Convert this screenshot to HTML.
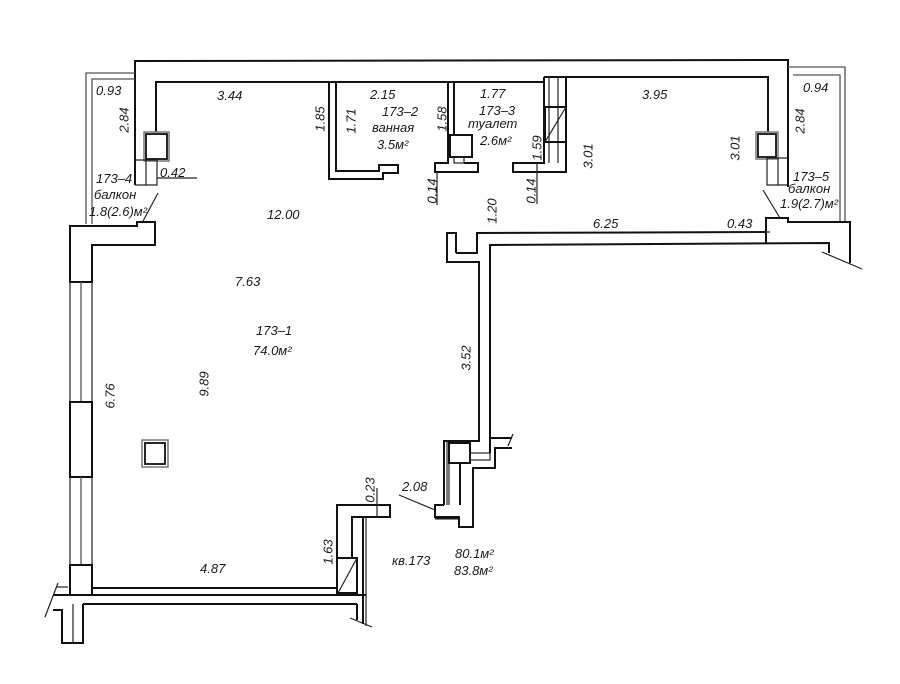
<!DOCTYPE html>
<html><head><meta charset="utf-8">
<style>
html,body{margin:0;padding:0;background:#fff;}
svg{display:block;}
text{font-family:"Liberation Sans","DejaVu Sans",sans-serif;font-style:italic;font-size:13px;fill:#1a1a1a;}
.w{fill:none;stroke:#111;stroke-width:2;stroke-linejoin:miter;}
.t{fill:none;stroke:#222;stroke-width:1.2;}
.g{fill:none;stroke:#555;stroke-width:1.3;}
</style></head>
<body>
<svg width="900" height="684" viewBox="0 0 900 684" xmlns="http://www.w3.org/2000/svg">
<rect width="900" height="684" fill="#fff"/>

<!-- top outer wall -->
<polyline class="w" points="135,185 135,61 788,60 788,187"/>
<!-- top inner wall -->
<polyline class="w" points="156,133 156,82 545,82"/>
<polyline class="w" points="566,77 768,77 768,133"/>

<!-- left chimney -->
<rect x="144" y="132" width="25" height="29" fill="#fff" stroke="#777" stroke-width="1.5"/>
<rect x="146" y="134" width="21" height="25" fill="#fff" stroke="#111" stroke-width="1.8"/>
<polyline class="t" points="135,160 157,160 157,185 135,185"/>
<line class="t" x1="146" y1="160" x2="146" y2="185"/>
<line class="t" x1="157" y1="178" x2="197" y2="178"/>

<!-- right chimney -->
<rect x="756" y="132" width="22" height="27" fill="#fff" stroke="#777" stroke-width="1.5"/>
<rect x="758" y="134" width="18" height="23" fill="#fff" stroke="#111" stroke-width="1.8"/>
<polyline class="t" points="788,158 767,158 767,185 788,185"/>
<line class="t" x1="778" y1="158" x2="778" y2="185"/>

<!-- left balcony -->
<polyline class="g" points="86,224 86,73 135,73"/>
<polyline class="g" points="92,224 92,79 135,79"/>
<line class="t" x1="158" y1="193" x2="142" y2="223"/>

<!-- right balcony -->
<polyline class="g" points="788,67 845,67 845,222"/>
<polyline class="g" points="793,75 840,75 840,222"/>
<line class="t" x1="763" y1="190" x2="780" y2="218"/>

<!-- left top block -->
<polygon class="w" fill="#fff" points="70,226 137,226 137,222 155,222 155,245 92,245 92,282 70,282"/>
<!-- windows -->
<line class="t" x1="70" y1="282" x2="70" y2="402"/>
<line class="g" x1="81" y1="282" x2="81" y2="402"/>
<line class="t" x1="92" y1="282" x2="92" y2="402"/>
<rect class="w" x="70" y="402" width="22" height="75"/>
<line class="t" x1="70" y1="477" x2="70" y2="565"/>
<line class="g" x1="81" y1="477" x2="81" y2="565"/>
<line class="t" x1="92" y1="477" x2="92" y2="565"/>
<rect class="w" x="70" y="565" width="22" height="30"/>

<!-- bottom wall -->
<line class="w" x1="92" y1="588" x2="338" y2="588"/>
<line class="w" x1="53" y1="595" x2="366" y2="595"/>
<line class="w" x1="83" y1="604" x2="357" y2="604"/>
<polyline class="w" points="53,610 62,610 62,643 83,643 83,604"/>
<line class="t" x1="73" y1="604" x2="73" y2="643"/>
<line class="t" x1="45" y1="617" x2="58" y2="583"/>
<line class="t" x1="57" y1="587" x2="68" y2="587"/>
<line class="w" x1="357" y1="604" x2="357" y2="620"/>
<line class="t" x1="350" y1="618" x2="372" y2="627"/>

<!-- bottom right wall near 1.63 -->
<polyline class="w" points="337,593 337,505 390,505 390,517 352,517 352,558"/>
<rect class="w" x="337" y="558" width="20" height="35"/>
<line class="t" x1="357" y1="558" x2="338" y2="593"/>
<line class="w" x1="363" y1="517" x2="363" y2="624"/>
<line class="t" x1="366" y1="517" x2="366" y2="626"/>
<line class="t" x1="377" y1="488" x2="377" y2="517"/>

<!-- bathroom wall -->
<polyline class="w" points="329,82 329,179 383,179 383,173 398,173 398,165 379,165 379,171 336,171 336,82"/>

<!-- toilet left wall -->
<polyline class="w" points="448,82 448,163 435,163 435,172 478,172 478,163 464,163"/>
<line class="w" x1="454" y1="82" x2="454" y2="135"/>
<rect class="w" fill="#fff" x="450" y="135" width="22" height="22"/>
<rect class="t" x="454" y="157" width="10" height="6"/>
<line class="t" x1="437" y1="172" x2="437" y2="205"/>

<!-- shaft / toilet right wall -->
<polyline class="w" points="544,77 544,163 513,163 513,172 566,172 566,77 544,77"/>
<line class="t" x1="549" y1="77" x2="549" y2="163"/>
<line class="t" x1="558" y1="77" x2="558" y2="163"/>
<rect class="w" fill="#fff" x="545" y="107" width="21" height="35"/>
<line class="t" x1="566" y1="107" x2="545" y2="142"/>
<line class="t" x1="537" y1="163" x2="537" y2="204"/>

<!-- corridor -->
<polyline class="w" points="456,253 456,233 447,233 447,262 479,262 479,442"/>
<polyline class="w" points="456,253 477,253 477,233 766,232"/>
<polyline class="w" points="490,438 490,245 829,243 829,253"/>
<polyline class="w" points="766,243 766,218 788,218 788,222 850,222 850,263"/>
<line class="t" x1="822" y1="252" x2="862" y2="269"/>
<line class="t" x1="727" y1="232" x2="770" y2="232"/>

<!-- corridor bottom / stairs -->
<polyline class="w" points="479,441 444,441 444,505"/>
<line class="t" x1="447" y1="441" x2="447" y2="505"/>
<rect class="w" fill="#fff" x="449" y="443" width="21" height="20"/>
<rect class="t" x="470" y="453" width="20" height="7"/>
<line class="t" x1="449" y1="463" x2="449" y2="505"/>
<line class="w" x1="460" y1="463" x2="460" y2="505"/>
<polyline class="w" points="444,505 435,505 435,517 459,517 459,527 473,527 473,468 495,468 495,448 512,448"/>
<line x1="435" y1="518" x2="459" y2="518" stroke="#111" stroke-width="3"/>
<polyline class="w" points="490,438 490,453"/>
<line class="w" x1="490" y1="438" x2="512" y2="438"/>
<line class="t" x1="513" y1="434" x2="508" y2="446"/>
<line class="t" x1="399" y1="495" x2="435" y2="510"/>

<!-- room chimney -->
<rect x="142" y="440" width="26" height="27" fill="#fff" stroke="#777" stroke-width="1.5"/>
<rect x="145" y="443" width="20" height="21" fill="#fff" stroke="#111" stroke-width="1.8"/>

<!-- labels horizontal -->
<text x="96" y="95">0.93</text>
<text x="217" y="100">3.44</text>
<text x="370" y="99">2.15</text>
<text x="382" y="116">173–2</text>
<text x="372" y="132">ванная</text>
<text x="377" y="149">3.5м²</text>
<text x="480" y="98">1.77</text>
<text x="479" y="115">173–3</text>
<text x="468" y="128">туалет</text>
<text x="480" y="145">2.6м²</text>
<text x="642" y="99">3.95</text>
<text x="803" y="92">0.94</text>
<text x="793" y="181">173–5</text>
<text x="788" y="193">балкон</text>
<text x="780" y="208">1.9(2.7)м²</text>
<text x="96" y="183">173–4</text>
<text x="94" y="199">балкон</text>
<text x="89" y="216">1.8(2.6)м²</text>
<text x="160" y="177">0.42</text>
<text x="267" y="219">12.00</text>
<text x="593" y="228">6.25</text>
<text x="727" y="228">0.43</text>
<text x="235" y="286">7.63</text>
<text x="256" y="335">173–1</text>
<text x="253" y="355">74.0м²</text>
<text x="402" y="491">2.08</text>
<text x="200" y="573">4.87</text>
<text x="392" y="565">кв.173</text>
<text x="455" y="558">80.1м²</text>
<text x="454" y="575">83.8м²</text>

<!-- labels rotated -->
<g text-anchor="middle" dominant-baseline="central">
<text transform="translate(124,120) rotate(-90)">2.84</text>
<text transform="translate(320,119) rotate(-90)">1.85</text>
<text transform="translate(351,121) rotate(-90)">1.71</text>
<text transform="translate(442,119) rotate(-90)">1.58</text>
<text transform="translate(537,148) rotate(-90)">1.59</text>
<text transform="translate(588,156) rotate(-90)">3.01</text>
<text transform="translate(735,148) rotate(-90)">3.01</text>
<text transform="translate(800,121) rotate(-90)">2.84</text>
<text transform="translate(432,191) rotate(-90)">0.14</text>
<text transform="translate(531,191) rotate(-90)">0.14</text>
<text transform="translate(492,211) rotate(-90)">1.20</text>
<text transform="translate(466,358) rotate(-90)">3.52</text>
<text transform="translate(110,396) rotate(-90)">6.76</text>
<text transform="translate(204,384) rotate(-90)">9.89</text>
<text transform="translate(370,490) rotate(-90)">0.23</text>
<text transform="translate(328,552) rotate(-90)">1.63</text>
</g>
</svg>
</body></html>
